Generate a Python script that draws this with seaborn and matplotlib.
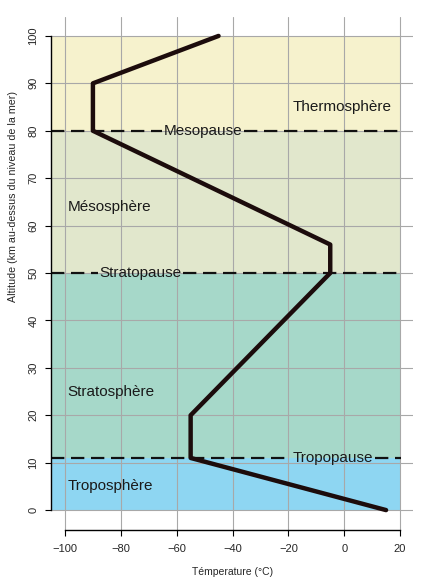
import matplotlib
matplotlib.use("Agg")
import matplotlib.pyplot as plt
import seaborn as sns
import pandas as pd

# temperature profile of the standard atmosphere
temperature = [15, -55, -55, -5, -5, -90, -90, -45]
altitude = [0, 11, 20, 50, 56, 80, 90, 100]

# layers: name, bottom, top, colour
layer_names = ["Troposphère", "Stratosphère", "Mésosphère", "Thermosphère"]
layer_bottom = [0, 11, 50, 80]
layer_top = [11, 50, 80, 100]
layer_colors = ["#8ed6f2", "#a6d8c9", "#e1e7cc", "#f6f2cd"]
layer_label_x = [-99, -99, -99, -18.5]
layer_label_y = [5, 25, 64, 85]

# pauses (dashed boundaries)
pause_names = ["Tropopause", "Stratopause", "Mesopause"]
pause_alt = [11, 50, 80]
pause_label_x = [-4, -73, -50.5]

sns.set_style("white")
plt.rcParams["font.family"] = ["Liberation Sans", "DejaVu Sans"]

fig = plt.figure(figsize=(4.4, 5.85), dpi=100)
ax = fig.add_axes([0.116, 0.094, 0.823, 0.877])
ax.set_xlim(-105, 24.7)
ax.set_ylim(-4.2, 104)

for lo, hi, col in zip(layer_bottom, layer_top, layer_colors):
    ax.fill_between([-105, 20], lo, hi, color=col, lw=0, zorder=0.1)

ax.set_axisbelow(True)
ax.set_xticks(range(-100, 21, 20))
ax.set_yticks(range(0, 101, 10))
ax.grid(True, color="#a8a8a8", lw=0.8)

for name, x, y in zip(layer_names, layer_label_x, layer_label_y):
    ax.text(x, y, name, fontsize=11, ha="left", va="center", color="#1a1a1a", zorder=3)

df = pd.DataFrame({"temperature": temperature, "altitude": altitude})
sns.lineplot(data=df, x="temperature", y="altitude", sort=False, estimator=None,
             color="#1c0c0c", lw=3.2, ax=ax, zorder=4)

# dashed boundaries interrupted by their labels
fig.canvas.draw()
renderer = fig.canvas.get_renderer()
for name, y, x in zip(pause_names, pause_alt, pause_label_x):
    t = ax.text(x, y, name, fontsize=11, ha="center", va="center", color="#1a1a1a", zorder=3)
    bb = t.get_window_extent(renderer).transformed(ax.transData.inverted())
    kw = dict(color="#111111", lw=1.6, ls=(0, (6, 3)), zorder=2)
    ax.plot([-105, bb.x0 - 0.5], [y, y], **kw)
    ax.plot([bb.x1 + 0.5, 20.5], [y, y], **kw)

for side in ["top", "right"]:
    ax.spines[side].set_visible(False)
ax.spines["left"].set_bounds(0, 100)
ax.spines["bottom"].set_bounds(-100, 20)
for side in ["left", "bottom"]:
    ax.spines[side].set_color("black")
    ax.spines[side].set_linewidth(1.0)

ax.tick_params(axis="both", which="major", length=4, width=0.8, labelsize=8, color="black",
               bottom=True, left=True)
ax.tick_params(axis="x", pad=6)
ax.tick_params(axis="y", pad=5)
plt.setp(ax.get_yticklabels(), rotation=90, va="center")
ax.set_xticklabels([str(v).replace("-", "\u2212") for v in range(-100, 21, 20)])

ax.set_xlabel("Témperature (°C)", fontsize=7.5)
ax.set_ylabel("Altitude (km au-dessus du niveau de la mer)", fontsize=7.7)
ax.xaxis.set_label_coords(0.5, -0.072)
ax.yaxis.set_label_coords(-0.092, 0.651)

fig.savefig("out.png", dpi=100)
